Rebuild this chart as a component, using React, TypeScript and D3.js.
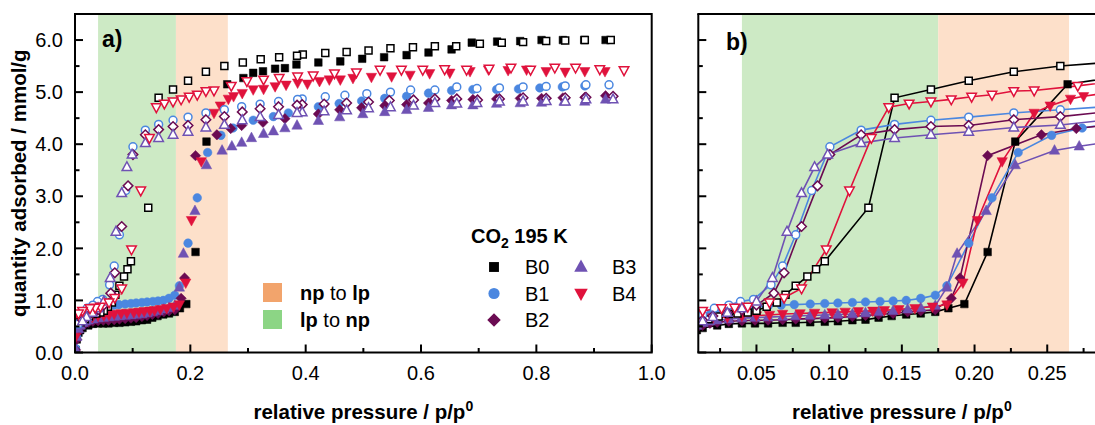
import React from 'react';
import * as d3 from 'd3';

// ---------- data: [relative pressure p/p0, quantity adsorbed mmol/g] ----------
const samples = ['B0', 'B1', 'B2', 'B3', 'B4'];
const colors = ['#000000', '#4b87e0', '#6b0b52', '#6f52b3', '#e0123c'];
const shapes = ['square', 'circle', 'diamond', 'triUp', 'triDown'];

const B0_ads: [number, number][] = [[0.001,0.05],[0.003,0.25],[0.006,0.38],[0.009,0.43],[0.013,0.47],[0.023,0.52],[0.031,0.55],[0.040,0.56],[0.049,0.56],[0.058,0.56],[0.068,0.57],[0.077,0.57],[0.087,0.58],[0.097,0.59],[0.106,0.60],[0.116,0.62],[0.125,0.63],[0.134,0.67],[0.143,0.70],[0.153,0.73],[0.163,0.75],[0.173,0.78],[0.182,0.85],[0.193,0.93],[0.209,1.93],[0.228,4.05],[0.264,5.15],[0.292,5.27],[0.309,5.37],[0.326,5.40],[0.347,5.45],[0.364,5.46],[0.384,5.53],[0.422,5.57],[0.460,5.59],[0.498,5.64],[0.536,5.67],[0.575,5.71],[0.613,5.76],[0.653,5.82],[0.688,5.95],[0.732,5.97],[0.772,5.98],[0.809,6.00],[0.846,6.00],[0.883,6.00],[0.920,6.00]];
const B0_des: [number, number][] = [[0.929,6.00],[0.884,6.00],[0.850,5.99],[0.817,5.98],[0.777,5.96],[0.740,5.95],[0.702,5.93],[0.661,5.88],[0.624,5.88],[0.586,5.86],[0.547,5.84],[0.509,5.80],[0.471,5.77],[0.434,5.75],[0.395,5.72],[0.385,5.70],[0.354,5.67],[0.322,5.63],[0.291,5.57],[0.259,5.50],[0.227,5.39],[0.196,5.22],[0.170,5.05],[0.145,4.89],[0.127,2.78],[0.097,1.75],[0.091,1.60],[0.085,1.46],[0.077,1.28],[0.070,1.11],[0.064,0.96],[0.057,0.88],[0.050,0.80],[0.044,0.77],[0.037,0.75],[0.031,0.74],[0.024,0.69],[0.017,0.64],[0.010,0.58]];

const B1_ads: [number, number][] = [[0.001,0.08],[0.003,0.30],[0.006,0.50],[0.009,0.60],[0.013,0.66],[0.018,0.72],[0.023,0.76],[0.031,0.80],[0.040,0.84],[0.049,0.87],[0.058,0.89],[0.067,0.91],[0.076,0.92],[0.087,0.93],[0.097,0.94],[0.106,0.95],[0.116,0.96],[0.125,0.97],[0.135,0.98],[0.144,0.99],[0.153,1.00],[0.163,1.04],[0.173,1.10],[0.181,1.28],[0.196,2.10],[0.212,2.97],[0.230,3.84],[0.253,4.17],[0.274,4.31],[0.309,4.46],[0.344,4.53],[0.370,4.60],[0.422,4.72],[0.458,4.78],[0.497,4.83],[0.537,4.88],[0.575,4.92],[0.613,4.98],[0.653,5.03],[0.690,5.05],[0.731,5.05],[0.769,5.06],[0.806,5.08],[0.845,5.10],[0.884,5.12]];
const B1_des: [number, number][] = [[0.926,5.14],[0.886,5.14],[0.850,5.12],[0.817,5.11],[0.777,5.10],[0.736,5.08],[0.697,5.07],[0.662,5.10],[0.624,5.04],[0.582,5.04],[0.547,5.00],[0.506,4.97],[0.468,4.94],[0.434,4.91],[0.394,4.87],[0.386,4.86],[0.353,4.82],[0.321,4.77],[0.289,4.72],[0.259,4.66],[0.227,4.60],[0.196,4.52],[0.170,4.46],[0.145,4.38],[0.122,4.27],[0.1005,3.95],[0.088,3.11],[0.077,2.26],[0.068,1.66],[0.060,1.30],[0.048,1.02],[0.039,0.98],[0.031,0.91],[0.021,0.85],[0.013,0.72],[0.006,0.55]];

const B2_ads: [number, number][] = [[0.001,0.05],[0.003,0.25],[0.006,0.40],[0.009,0.47],[0.013,0.52],[0.018,0.56],[0.023,0.58],[0.031,0.60],[0.040,0.61],[0.049,0.62],[0.058,0.62],[0.068,0.63],[0.077,0.64],[0.087,0.65],[0.097,0.66],[0.106,0.67],[0.116,0.69],[0.125,0.71],[0.134,0.73],[0.144,0.75],[0.154,0.78],[0.163,0.80],[0.173,0.82],[0.184,1.04],[0.190,1.43],[0.209,3.78],[0.246,4.18],[0.270,4.30],[0.289,4.36],[0.326,4.42],[0.364,4.49],[0.422,4.58],[0.459,4.66],[0.497,4.70],[0.537,4.74],[0.575,4.76],[0.613,4.79],[0.653,4.84],[0.690,4.86],[0.731,4.87],[0.772,4.88],[0.809,4.88],[0.846,4.89],[0.884,4.90],[0.920,4.93]];
const B2_des: [number, number][] = [[0.933,4.92],[0.886,4.90],[0.850,4.89],[0.817,4.88],[0.777,4.89],[0.736,4.87],[0.698,4.85],[0.662,4.87],[0.624,4.87],[0.587,4.85],[0.545,4.84],[0.509,4.81],[0.471,4.79],[0.432,4.77],[0.394,4.76],[0.385,4.75],[0.353,4.72],[0.321,4.68],[0.290,4.62],[0.259,4.53],[0.227,4.47],[0.196,4.36],[0.170,4.34],[0.145,4.28],[0.122,4.18],[0.1005,3.80],[0.092,3.20],[0.081,2.42],[0.069,1.53],[0.062,1.14],[0.050,0.91],[0.040,0.82],[0.030,0.76],[0.020,0.70],[0.013,0.62]];

const B3_ads: [number, number][] = [[0.001,0.06],[0.003,0.30],[0.006,0.45],[0.009,0.52],[0.013,0.57],[0.018,0.60],[0.023,0.62],[0.031,0.64],[0.040,0.66],[0.049,0.67],[0.058,0.68],[0.068,0.69],[0.077,0.70],[0.087,0.71],[0.097,0.72],[0.106,0.73],[0.116,0.74],[0.125,0.76],[0.134,0.78],[0.144,0.80],[0.154,0.83],[0.163,0.86],[0.173,0.90],[0.181,1.25],[0.188,1.90],[0.208,2.72],[0.228,3.60],[0.255,3.88],[0.272,3.96],[0.289,4.03],[0.306,4.12],[0.327,4.20],[0.344,4.25],[0.364,4.31],[0.385,4.36],[0.422,4.45],[0.459,4.52],[0.499,4.58],[0.537,4.62],[0.575,4.66],[0.613,4.70],[0.653,4.75],[0.690,4.75],[0.731,4.78],[0.772,4.79],[0.809,4.80],[0.848,4.82],[0.884,4.82],[0.920,4.86]];
const B3_des: [number, number][] = [[0.933,4.86],[0.886,4.86],[0.850,4.82],[0.817,4.83],[0.777,4.82],[0.736,4.82],[0.697,4.79],[0.662,4.78],[0.624,4.79],[0.587,4.74],[0.547,4.71],[0.509,4.69],[0.471,4.65],[0.432,4.63],[0.394,4.61],[0.385,4.60],[0.353,4.56],[0.321,4.52],[0.290,4.46],[0.259,4.37],[0.227,4.32],[0.196,4.24],[0.170,4.18],[0.145,4.12],[0.122,4.02],[0.099,3.80],[0.090,3.56],[0.081,3.06],[0.071,2.32],[0.061,1.43],[0.050,0.98],[0.040,0.85],[0.030,0.76],[0.020,0.68],[0.013,0.60]];

const B4_ads: [number, number][] = [[0.001,0.30],[0.003,0.60],[0.006,0.65],[0.009,0.66],[0.013,0.66],[0.020,0.67],[0.030,0.68],[0.040,0.70],[0.050,0.71],[0.059,0.72],[0.068,0.74],[0.080,0.75],[0.090,0.76],[0.102,0.77],[0.111,0.78],[0.120,0.79],[0.130,0.80],[0.138,0.81],[0.148,0.83],[0.159,0.85],[0.171,0.88],[0.181,0.92],[0.192,1.34],[0.202,2.54],[0.219,3.67],[0.241,4.60],[0.252,4.74],[0.266,4.87],[0.275,4.92],[0.290,4.98],[0.309,5.05],[0.327,5.06],[0.347,5.11],[0.366,5.14],[0.386,5.18],[0.403,5.16],[0.424,5.21],[0.441,5.24],[0.460,5.24],[0.482,5.27],[0.514,5.29],[0.549,5.30],[0.581,5.33],[0.615,5.36],[0.650,5.37],[0.685,5.40],[0.717,5.43],[0.751,5.42],[0.783,5.43],[0.817,5.40],[0.850,5.39],[0.884,5.40],[0.919,5.40]];
const B4_des: [number, number][] = [[0.952,5.42],[0.910,5.44],[0.868,5.47],[0.832,5.47],[0.790,5.43],[0.756,5.47],[0.718,5.45],[0.679,5.43],[0.641,5.44],[0.603,5.43],[0.566,5.43],[0.529,5.43],[0.488,5.38],[0.450,5.36],[0.413,5.32],[0.386,5.30],[0.354,5.27],[0.327,5.24],[0.298,5.21],[0.271,5.12],[0.241,5.03],[0.227,5.02],[0.212,4.95],[0.198,4.91],[0.184,4.86],[0.170,4.82],[0.155,4.78],[0.141,4.71],[0.129,4.12],[0.114,3.11],[0.098,1.98],[0.081,1.23],[0.069,1.05],[0.059,0.96],[0.044,0.88],[0.035,0.86],[0.026,0.85],[0.013,0.80],[0.006,0.75]];

const adsData = [B0_ads, B1_ads, B2_ads, B3_ads, B4_ads];
const desData = [B0_des, B1_des, B2_des, B3_des, B4_des];

const bandLpNp: [number, number] = [0.04, 0.175];
const bandNpLp: [number, number] = [0.175, 0.265];

const xTicksA = [0, 0.1, 0.2, 0.3, 0.4, 0.5, 0.6, 0.7, 0.8, 0.9, 1.0];
const xTicksB = [0.025, 0.05, 0.075, 0.1, 0.125, 0.15, 0.175, 0.2, 0.225, 0.25, 0.275];
const yTicks = [0, 0.5, 1, 1.5, 2, 2.5, 3, 3.5, 4, 4.5, 5, 5.5, 6];

// ---------- layout ----------
const W = 1095, H = 425;
const TOP = 14, BOT = 352.5;
const FONT = 'Liberation Sans, Arial, Helvetica, sans-serif';
const GREEN = '#cdeac5';
const ORANGE = '#fde0ca';

const xA = d3.scaleLinear().domain([0, 1]).range([75, 651.7]);
const xB = d3.scaleLinear().domain([0.01, 0.29]).range([698.3, 1105.4]);
const y = d3.scaleLinear().domain([0, 6.5]).range([BOT, TOP]);

// custom symbol types: size = half-width in px
const symTypes: Record<string, d3.SymbolType> = {
  square: { draw(c, r) { c.moveTo(-r, -r); c.lineTo(r, -r); c.lineTo(r, r); c.lineTo(-r, r); c.closePath(); } },
  circle: { draw(c, r) { c.moveTo(r, 0); c.arc(0, 0, r, 0, 2 * Math.PI); c.closePath(); } },
  diamond: { draw(c, r) { c.moveTo(0, -r); c.lineTo(r, 0); c.lineTo(0, r); c.lineTo(-r, 0); c.closePath(); } },
  triUp: { draw(c, r) { c.moveTo(0, -r * 1.12); c.lineTo(r, r * 0.72); c.lineTo(-r, r * 0.72); c.closePath(); } },
  triDown: { draw(c, r) { c.moveTo(0, r * 1.12); c.lineTo(r, -r * 0.72); c.lineTo(-r, -r * 0.72); c.closePath(); } },
};
const symSize: Record<string, number> = { square: 3.8, circle: 4.3, diamond: 5.2, triUp: 5.2, triDown: 5.2 };
const symPath = (shape: string, scale = 1) =>
  d3.symbol().type(symTypes[shape]).size(symSize[shape] * scale)() as string;

function Markers({ data, xs, shape, color, open, clip }: any) {
  const p = symPath(shape, open ? 0.92 : 1);
  return (
    <g clipPath={clip}>
      {data.map((d: [number, number], i: number) => (
        <path key={i} d={p} transform={`translate(${xs(d[0])},${y(d[1])})`}
          fill={open ? '#ffffff' : color} stroke={color} strokeWidth={open ? 1.5 : 0.5} />
      ))}
    </g>
  );
}

export default function App() {
  const lineB = d3.line<[number, number]>().x(d => xB(d[0])).y(d => y(d[1]));
  const [xa0, xa1] = xA.range();
  const [xb0] = xB.range();
  const tickLen = (major: boolean) => (major ? 8 : 4.5);
  const isMajorX = (v: number) => Math.abs(v * 5 - Math.round(v * 5)) < 1e-6;
  const isMajorXB = (v: number) => Math.abs(v * 20 - Math.round(v * 20)) < 1e-6;
  const isMajorY = (v: number) => Math.abs(v - Math.round(v)) < 1e-6;

  return (
    <svg width={W} height={H} viewBox={`0 0 ${W} ${H}`} fontFamily={FONT}
      style={{ position: 'absolute', left: 0, top: 0, background: '#fff' }}>
      <defs>
        <clipPath id="clipB"><rect x={xb0} y={TOP} width={600} height={BOT - TOP} /></clipPath>
        <clipPath id="clipA"><rect x={xa0} y={TOP} width={xa1 - xa0} height={BOT - TOP} /></clipPath>
      </defs>
      <rect x={0} y={0} width={W} height={H} fill="#fff" />

      {/* ---------- panel a ---------- */}
      <rect x={xA(bandLpNp[0])} y={TOP} width={xA(bandLpNp[1]) - xA(bandLpNp[0])} height={BOT - TOP} fill={GREEN} />
      <rect x={xA(bandNpLp[0])} y={TOP} width={xA(bandNpLp[1]) - xA(bandNpLp[0])} height={BOT - TOP} fill={ORANGE} />
      {adsData.map((d, i) => (
        <Markers key={'aa' + i} data={d} xs={xA} shape={shapes[i]} color={colors[i]} open={false} clip="url(#clipA)" />
      ))}
      {desData.map((d, i) => (
        <Markers key={'ad' + i} data={d} xs={xA} shape={shapes[i]} color={colors[i]} open={true} clip="url(#clipA)" />
      ))}
      <rect x={xa0} y={TOP} width={xa1 - xa0} height={BOT - TOP} fill="none" stroke="#000" strokeWidth={2} />
      {xTicksA.map(v => (
        <line key={'xta' + v} x1={xA(v)} x2={xA(v)} y1={BOT} y2={BOT - tickLen(isMajorX(v))} stroke="#000" strokeWidth={2} />
      ))}
      {xTicksA.filter(isMajorX).map(v => (
        <text key={'xla' + v} x={xA(v)} y={380} fontSize={20} textAnchor="middle">{d3.format('.1f')(v)}</text>
      ))}
      {yTicks.map(v => (
        <line key={'yta' + v} x1={xa0} x2={xa0 + tickLen(isMajorY(v))} y1={y(v)} y2={y(v)} stroke="#000" strokeWidth={2} />
      ))}
      {yTicks.filter(isMajorY).map(v => (
        <text key={'yla' + v} x={63} y={y(v)} dy="0.36em" fontSize={20} textAnchor="end">{d3.format('.1f')(v)}</text>
      ))}
      <text x={102} y={47} fontSize={23} fontWeight="bold">a)</text>

      {/* legend: bands */}
      <rect x={263} y={283} width={19} height={19} fill="#f2a46c" />
      <rect x={263} y={310} width={19} height={19} fill="#8cd585" />
      <text x={300} y={300} fontSize={20}><tspan fontWeight="bold">np</tspan> to <tspan fontWeight="bold">lp</tspan></text>
      <text x={300} y={327} fontSize={20}><tspan fontWeight="bold">lp</tspan> to <tspan fontWeight="bold">np</tspan></text>

      {/* legend: samples */}
      <text x={471} y={243} fontSize={20} fontWeight="bold">CO<tspan fontSize={14} dy={5}>2</tspan><tspan dy={-5}> 195 K</tspan></text>
      {samples.map((s, i) => {
        const col = i < 3 ? 0 : 1;
        const row = i < 3 ? i : i - 3;
        const mx = col === 0 ? 494 : 581;
        const my = 267 + row * 26.5;
        return (
          <g key={'lg' + s}>
            <path d={symPath(shapes[i], 1.3)} transform={`translate(${mx},${my})`} fill={colors[i]} />
            <text x={mx + 31} y={my} dy="0.36em" fontSize={20}>{s}</text>
          </g>
        );
      })}

      <text x={(xa0 + xa1) / 2} y={419} fontSize={20.5} fontWeight="bold" textAnchor="middle">
        relative pressure / p/p<tspan fontSize={14} dy={-8}>0</tspan>
      </text>
      <text transform={`translate(26,${(TOP + BOT) / 2 + 0}) rotate(-90)`} fontSize={20.5} fontWeight="bold" textAnchor="middle">
        quantity adsorbed / mmol/g
      </text>

      {/* ---------- panel b ---------- */}
      <g clipPath="url(#clipB)">
        <rect x={xB(bandLpNp[0])} y={TOP} width={xB(bandLpNp[1]) - xB(bandLpNp[0])} height={BOT - TOP} fill={GREEN} />
        <rect x={xB(bandNpLp[0])} y={TOP} width={xB(bandNpLp[1]) - xB(bandNpLp[0])} height={BOT - TOP} fill={ORANGE} />
        {adsData.map((d, i) => (
          <path key={'bla' + i} d={lineB(d) as string} fill="none" stroke={colors[i]} strokeWidth={1.6} />
        ))}
        {desData.map((d, i) => (
          <path key={'bld' + i} d={lineB(d) as string} fill="none" stroke={colors[i]} strokeWidth={1.6} />
        ))}
      </g>
      {adsData.map((d, i) => (
        <Markers key={'ba' + i} data={d} xs={xB} shape={shapes[i]} color={colors[i]} open={false} clip="url(#clipB)" />
      ))}
      {desData.map((d, i) => (
        <Markers key={'bd' + i} data={d} xs={xB} shape={shapes[i]} color={colors[i]} open={true} clip="url(#clipB)" />
      ))}
      <line x1={xb0} x2={xb0} y1={TOP} y2={BOT} stroke="#000" strokeWidth={2} />
      <line x1={xb0 - 1} x2={W + 10} y1={TOP} y2={TOP} stroke="#000" strokeWidth={2} />
      <line x1={xb0 - 1} x2={W + 10} y1={BOT} y2={BOT} stroke="#000" strokeWidth={2} />
      {xTicksB.map(v => (
        <line key={'xtb' + v} x1={xB(v)} x2={xB(v)} y1={BOT} y2={BOT - tickLen(isMajorXB(v))} stroke="#000" strokeWidth={2} />
      ))}
      {xTicksB.filter(isMajorXB).map(v => (
        <text key={'xlb' + v} x={xB(v)} y={380} fontSize={20} textAnchor="middle">{d3.format('.2f')(v)}</text>
      ))}
      {yTicks.map(v => (
        <line key={'ytb' + v} x1={xb0} x2={xb0 + tickLen(isMajorY(v))} y1={y(v)} y2={y(v)} stroke="#000" strokeWidth={2} />
      ))}
      <text x={726} y={50} fontSize={23} fontWeight="bold">b)</text>
      <text x={(xB.range()[0] + xB.range()[1]) / 2} y={419} fontSize={20.5} fontWeight="bold" textAnchor="middle">
        relative pressure / p/p<tspan fontSize={14} dy={-8}>0</tspan>
      </text>
    </svg>
  );
}
